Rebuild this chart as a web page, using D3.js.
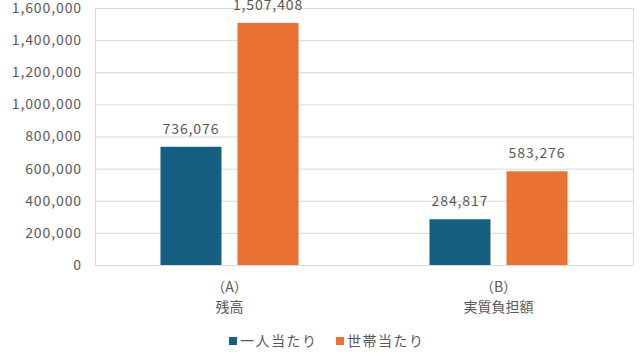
<!DOCTYPE html>
<html>
<head>
<meta charset="utf-8">
<script src="https://cdn.jsdelivr.net/npm/d3@7"></script>
<style>
  body { margin: 0; background: #fff; }
  text { font-family: "Noto Sans CJK JP", "Noto Sans", sans-serif; fill: #595959; }
</style>
</head>
<body>
<div id="chart"></div>
<script>
// data
const categories = ["（A）\n残高", "（B）\n実質負担額"];
const seriesNames = ["一人当たり", "世帯当たり"];
const perPerson = [736076, 284817];
const perHousehold = [1507408, 583276];
const yTicks = [0, 200000, 400000, 600000, 800000, 1000000, 1200000, 1400000, 1600000];

const colors = ["#156082", "#E97132"];
const width = 640, height = 360;
const margin = { top: 8, right: 7, bottom: 95, left: 95 };

const svg = d3.select("#chart").append("svg")
  .attr("width", width)
  .attr("height", height);

const x0 = d3.scaleBand()
  .domain(categories)
  .range([margin.left, width - margin.right]);

const x1 = d3.scaleBand()
  .domain(seriesNames)
  .range([0, x0.bandwidth()])
  .paddingInner(0.208)
  .paddingOuter(0.85);

const y = d3.scaleLinear()
  .domain([0, 1600000])
  .range([height - margin.bottom, margin.top]);

const fmt = d3.format(",");

// gridlines
svg.append("g")
  .selectAll("line")
  .data(yTicks)
  .join("line")
  .attr("x1", margin.left)
  .attr("x2", width - margin.right)
  .attr("y1", (d) => y(d) + 0.5)
  .attr("y2", (d) => y(d) + 0.5)
  .attr("stroke", "#D9D9D9")
  .attr("stroke-width", 1);

// plot border sides
svg.append("g")
  .selectAll("line")
  .data([margin.left, width - margin.right])
  .join("line")
  .attr("x1", (d) => d + 0.5)
  .attr("x2", (d) => d + 0.5)
  .attr("y1", y(1600000))
  .attr("y2", y(0))
  .attr("stroke", "#D9D9D9");

// y tick labels
svg.append("g")
  .selectAll("text")
  .data(yTicks)
  .join("text")
  .attr("x", 82)
  .attr("y", (d) => y(d))
  .attr("dy", "0.35em")
  .attr("text-anchor", "end")
  .style("font-size", "14px")
  .style("letter-spacing", "0.9px")
  .text((d) => fmt(d));

// bars
const rows = categories.map((c, i) => ({
  cat: c,
  values: [
    { name: seriesNames[0], value: perPerson[i] },
    { name: seriesNames[1], value: perHousehold[i] },
  ],
}));

const groups = svg.append("g")
  .selectAll("g")
  .data(rows)
  .join("g")
  .attr("transform", (d) => `translate(${x0(d.cat)},0)`);

groups.selectAll("rect")
  .data((d) => d.values)
  .join("rect")
  .attr("x", (d) => x1(d.name))
  .attr("width", x1.bandwidth())
  .attr("y", (d) => y(d.value))
  .attr("height", (d) => y(0) - y(d.value))
  .attr("fill", (d, i) => colors[i]);

groups.selectAll("text.val")
  .data((d) => d.values)
  .join("text")
  .attr("class", "val")
  .attr("x", (d) => x1(d.name) + x1.bandwidth() / 2)
  .attr("y", (d) => y(d.value) - 13)
  .attr("text-anchor", "middle")
  .style("font-size", "14px")
  .style("letter-spacing", "0.9px")
  .text((d) => fmt(d.value));

// category labels
const catLabels = svg.append("g")
  .selectAll("text")
  .data(categories)
  .join("text")
  .attr("x", (d) => x0(d) + x0.bandwidth() / 2)
  .attr("text-anchor", "middle")
  .style("font-size", "14px");

catLabels.selectAll("tspan")
  .data((d) => d.split("\n"))
  .join("tspan")
  .attr("x", function () { return d3.select(this.parentNode).attr("x"); })
  .attr("y", (d, i) => 292 + i * 20)
  .text((d) => d);

// legend
const legendX = [229, 336];
const legend = svg.append("g")
  .selectAll("g")
  .data(seriesNames)
  .join("g")
  .attr("transform", (d, i) => `translate(${legendX[i]},341)`);

legend.append("rect")
  .attr("x", 0)
  .attr("y", -4)
  .attr("width", 8)
  .attr("height", 8)
  .attr("fill", (d, i) => colors[i]);

legend.append("text")
  .attr("x", 11)
  .attr("dy", "0.35em")
  .style("font-size", "14px")
  .style("letter-spacing", "1.5px")
  .text((d) => d);
</script>
</body>
</html>
